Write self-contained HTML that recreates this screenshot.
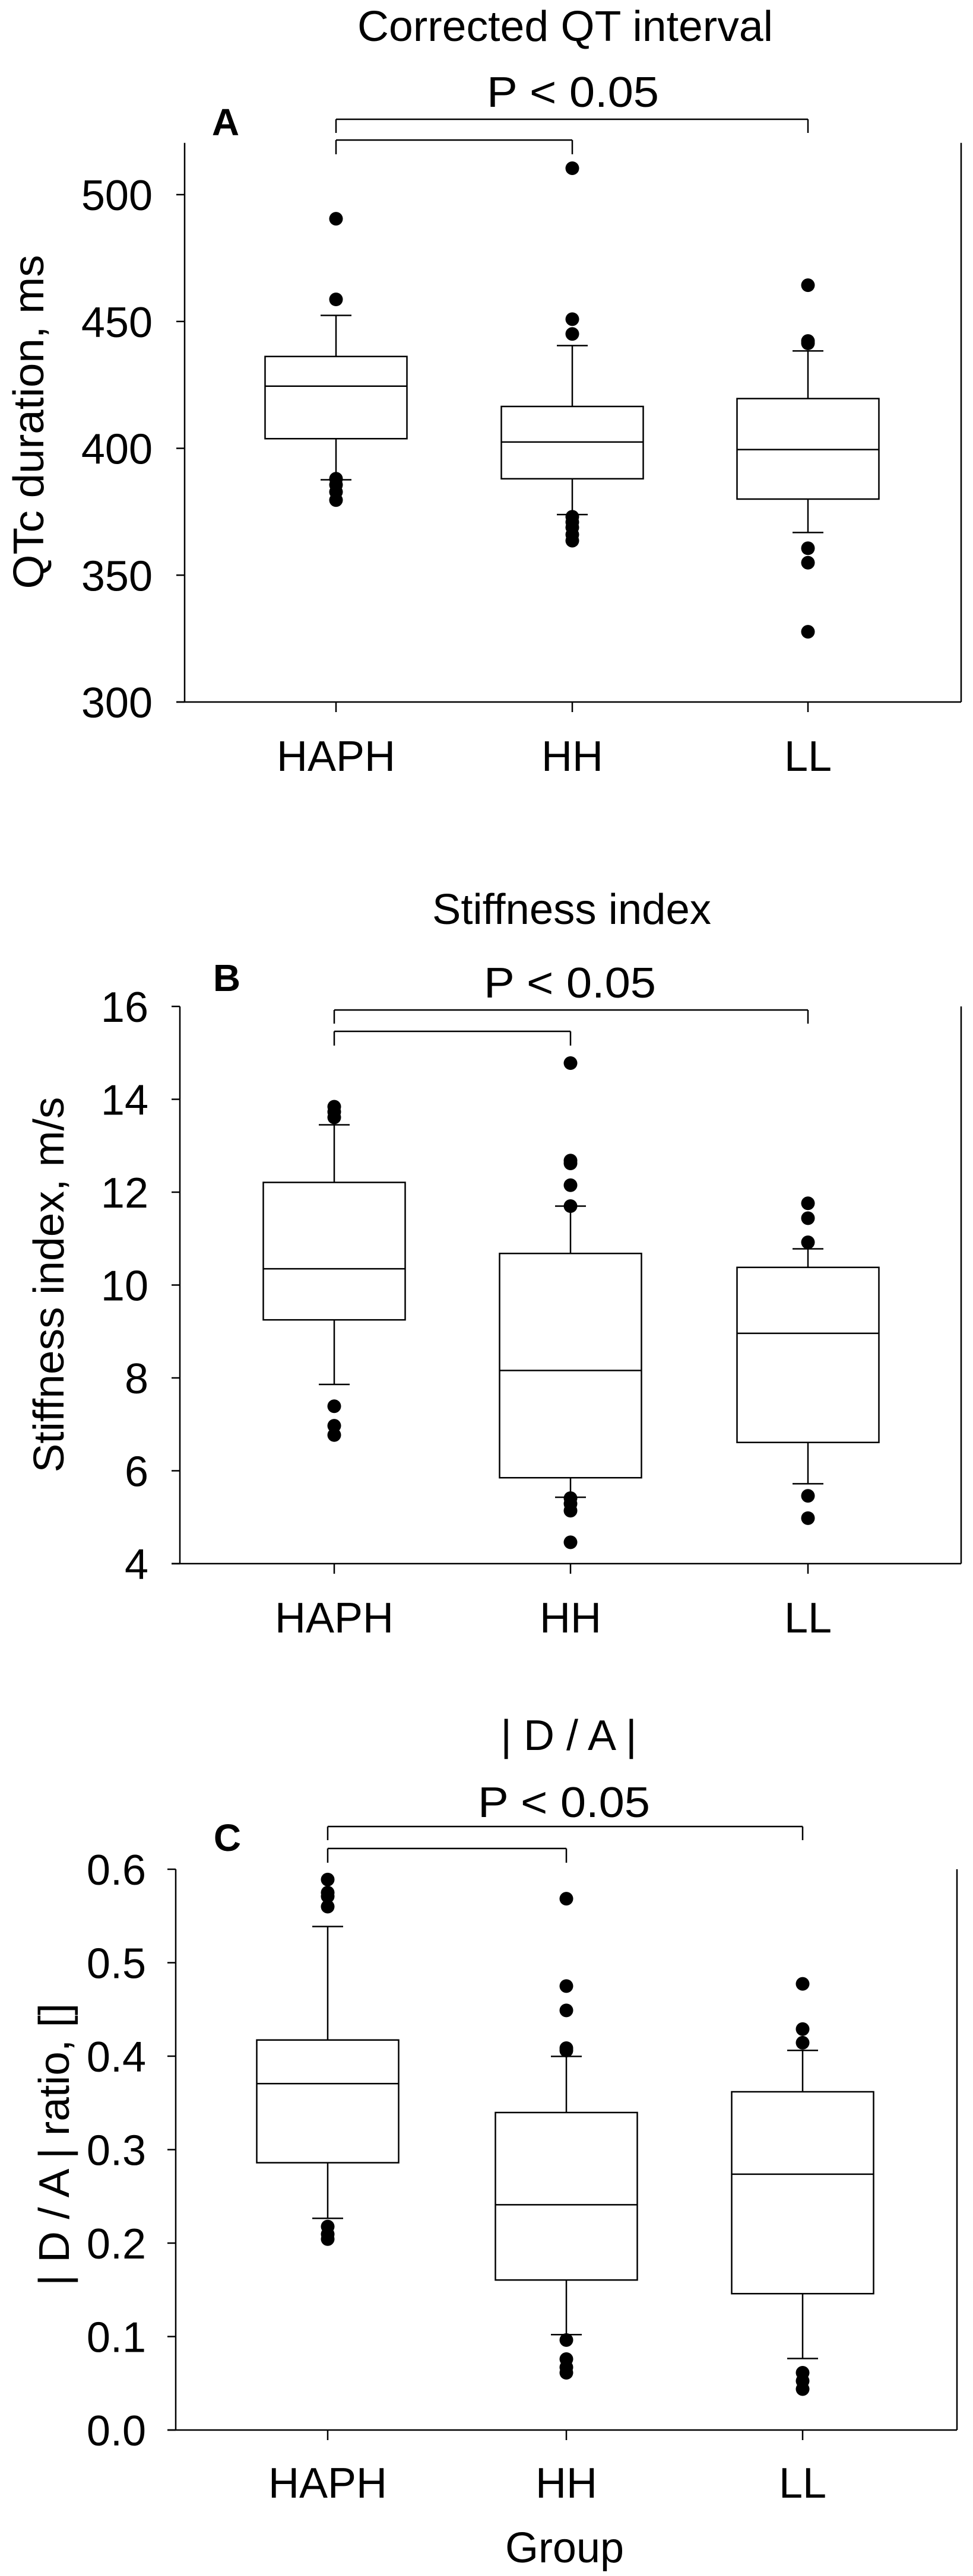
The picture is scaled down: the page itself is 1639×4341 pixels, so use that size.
<!DOCTYPE html>
<html><head><meta charset="utf-8">
<style>
html,body{margin:0;padding:0;background:#fff;}
svg{display:block;font-family:"Liberation Sans",Arial,sans-serif;}
</style></head>
<body>
<svg id="fig" width="1639" height="4341" viewBox="0 0 1639 4341"></svg>
<script>
// ---------- DATA ----------
const groups = ["HAPH","HH","LL"];

// Panel A: Corrected QT interval (ms)
const qtcTicks = [300,350,400,450,500];
const qtcQ1 = [403.8, 388.0, 380.0];
const qtcMedian = [424.5, 402.5, 399.5];
const qtcQ3 = [436.2, 416.5, 419.6];
const qtcWhiskerLow = [387.6, 373.9, 366.8];
const qtcWhiskerHigh = [452.4, 440.5, 438.4];
const qtcOutliers = [
  [490.5, 458.7, 388.0, 385.6, 382.8, 379.6],
  [510.4, 450.9, 445.1, 373.0, 370.9, 368.8, 366.0, 363.6],
  [464.3, 442.3, 441.4, 360.6, 354.9, 327.7]
];

// Panel B: Stiffness index (m/s)
const siTicks = [4,6,8,10,12,14,16];
const siQ1 = [9.25, 5.85, 6.61];
const siMedian = [10.35, 8.16, 8.96];
const siQ3 = [12.21, 10.68, 10.38];
const siWhiskerLow = [7.86, 5.43, 5.72];
const siWhiskerHigh = [13.45, 11.70, 10.78];
const siOutliers = [
  [13.84, 13.73, 13.61, 7.39, 6.97, 6.77],
  [14.78, 12.68, 12.62, 12.15, 11.70, 5.41, 5.29, 5.14, 4.46],
  [11.76, 11.44, 10.92, 5.46, 4.98]
];

// Panel C: |D/A| ratio
const daTicks = [0.0,0.1,0.2,0.3,0.4,0.5,0.6];
const daTickLabels = ["0.0","0.1","0.2","0.3","0.4","0.5","0.6"];
const daQ1 = [0.286, 0.1605, 0.1459];
const daMedian = [0.3706, 0.241, 0.2737];
const daQ3 = [0.4173, 0.3397, 0.3619];
const daWhiskerLow = [0.2265, 0.1021, 0.0765];
const daWhiskerHigh = [0.5387, 0.3998, 0.4062];
const daOutliers = [
  [0.589, 0.575, 0.571, 0.560, 0.2177, 0.2095, 0.2043],
  [0.5685, 0.475, 0.449, 0.4086, 0.406, 0.0963, 0.0759, 0.0671, 0.0613],
  [0.4774, 0.429, 0.4144, 0.0613, 0.0525, 0.0438]
];

// ---------- DRAWING ----------
const NS = "http://www.w3.org/2000/svg";
const svg = document.getElementById("fig");
function mk(tag, attrs, parent){
  const e = document.createElementNS(NS, tag);
  for (const k in attrs) e.setAttribute(k, attrs[k]);
  (parent||svg).appendChild(e);
  return e;
}
function line(p, x1,y1,x2,y2,w){ return mk("line",{x1:x1,y1:y1,x2:x2,y2:y2,stroke:"#000","stroke-width":w||2.5},p); }
function text(p, x,y,str,size,anchor,weight){
  const t = mk("text",{x:x,y:y,"font-size":size,"text-anchor":anchor||"middle","font-weight":weight||"normal",fill:"#000"},p);
  t.textContent = str;
  return t;
}

function drawPanel(cfg){
  const g = mk("g",{});
  
  
  const yScale = v => cfg.yZero - (v - cfg.vMin) * cfg.pxPerUnit;
  const xScale = i => cfg.groupX[i];

  // titles
  const t1 = text(g, cfg.titleX, cfg.titleY, cfg.title, 72);
  
  
  if (cfg.titleLen) { t1.setAttribute("textLength", cfg.titleLen); t1.setAttribute("lengthAdjust","spacingAndGlyphs"); }
  const pt = text(g, cfg.pX, cfg.pY, "P < 0.05", 72);
  
  
  pt.setAttribute("textLength", 290); pt.setAttribute("lengthAdjust","spacingAndGlyphs");
  const lab = text(g, cfg.labX, cfg.labY, cfg.letter, 64, "middle", "bold");
  
  

  // brackets
  const br = mk("g",{},g);
  
  
  line(br, xScale(0), cfg.brUpper, xScale(2), cfg.brUpper, 2.5);
  line(br, xScale(0), cfg.brUpper, xScale(0), cfg.brUpper+23, 2.5);
  line(br, xScale(2), cfg.brUpper, xScale(2), cfg.brUpper+23, 2.5);
  line(br, xScale(0), cfg.brLower, xScale(1), cfg.brLower, 2.5);
  line(br, xScale(0), cfg.brLower, xScale(0), cfg.brLower+24, 2.5);
  line(br, xScale(1), cfg.brLower, xScale(1), cfg.brLower+24, 2.5);

  // axes
  const ax = mk("g",{},g);
  
  
  const yTopPx = yScale(cfg.vMax);
  line(ax, cfg.x0, yTopPx, cfg.x0, cfg.yZero, 2.5);
  line(ax, cfg.x1, yTopPx, cfg.x1, cfg.yZero, 2.5);
  line(ax, cfg.x0 - 14, cfg.yZero, cfg.x1, cfg.yZero, 2.5);
  cfg.ticks.forEach((v,i)=>{
    const y = yScale(v);
    line(ax, cfg.x0 - 14, y, cfg.x0, y, 2.5);
    const tl = text(ax, cfg.tickRight, y + 26, cfg.tickLabels ? cfg.tickLabels[i] : String(v), 72, "end");
    
    
  });
  groups.forEach((gname,i)=>{
    line(ax, xScale(i), cfg.yZero, xScale(i), cfg.yZero + 17, 2.5);
    const xl = text(ax, xScale(i), cfg.xLabY, gname, 72);
    
    
  });
  const yt = text(ax, 0, 0, cfg.yTitle, 72);
  yt.setAttribute("transform", "translate("+cfg.yTitleX+","+cfg.yTitleY+") rotate(-90)");
  yt.setAttribute("textLength", cfg.yTitleLen); yt.setAttribute("lengthAdjust","spacingAndGlyphs");
  
  

  // boxes
  groups.forEach((gname,i)=>{
    const bg = mk("g",{},g);
    
    
    const x = xScale(i), hw = 119.5, cap = 26;
    const yq1 = yScale(cfg.q1[i]), yq3 = yScale(cfg.q3[i]);
    const r = mk("rect",{x:x-hw, y:yq3, width:2*hw, height:yq1-yq3, fill:"none", stroke:"#000","stroke-width":2.5},bg);
    
    
    const md = line(bg, x-hw, yScale(cfg.med[i]), x+hw, yScale(cfg.med[i]), 2.5);
    
    
    line(bg, x, yq3, x, yScale(cfg.wHi[i]), 2.5);
    line(bg, x-cap, yScale(cfg.wHi[i]), x+cap, yScale(cfg.wHi[i]), 2.5);
    line(bg, x, yq1, x, yScale(cfg.wLo[i]), 2.5);
    line(bg, x-cap, yScale(cfg.wLo[i]), x+cap, yScale(cfg.wLo[i]), 2.5);
    cfg.out[i].forEach(v=>{
      const c = mk("circle",{cx:x, cy:yScale(v), r:11.5, fill:"#000"},bg);
      
      
    });
  });
}

drawPanel({
  name:"panel-a-qtc", letter:"A", title:"Corrected QT interval", titleX:952, titleY:69, titleLen:700,
  pX:965, pY:180, labX:380, labY:228,
  brUpper:201, brLower:236,
  x0:311, x1:1619, yZero:1183, vMin:300, vMax:520.4, pxPerUnit:4.275,
  groupX:[566,964,1361], ticks:qtcTicks, tickRight:257, xLabY:1299,
  yTitle:"QTc duration, ms", yTitleX:73, yTitleY:711, yTitleLen:563,
  q1:qtcQ1, med:qtcMedian, q3:qtcQ3, wLo:qtcWhiskerLow, wHi:qtcWhiskerHigh, out:qtcOutliers
});
drawPanel({
  name:"panel-b-stiffness", letter:"B", title:"Stiffness index", titleX:963, titleY:1557, titleLen:470,
  pX:960, pY:1681, labX:382, labY:1670,
  brUpper:1702, brLower:1738,
  x0:303, x1:1619, yZero:2635, vMin:4, vMax:16, pxPerUnit:78.25,
  groupX:[563,961,1361], ticks:siTicks, tickRight:250, xLabY:2751,
  yTitle:"Stiffness index, m/s", yTitleX:107, yTitleY:2165, yTitleLen:633,
  q1:siQ1, med:siMedian, q3:siQ3, wLo:siWhiskerLow, wHi:siWhiskerHigh, out:siOutliers
});
drawPanel({
  name:"panel-c-da-ratio", letter:"C", title:"| D / A |", titleX:958, titleY:2949, titleLen:0,
  pX:950, pY:3062, labX:383, labY:3119,
  brUpper:3078, brLower:3115,
  x0:296, x1:1612, yZero:4095, vMin:0, vMax:0.6, pxPerUnit:1575,
  groupX:[552,954,1352], ticks:daTicks, tickLabels:daTickLabels, tickRight:246, xLabY:4209,
  yTitle:"| D / A | ratio, []", yTitleX:116, yTitleY:3614, yTitleLen:476,
  q1:daQ1, med:daMedian, q3:daQ3, wLo:daWhiskerLow, wHi:daWhiskerHigh, out:daOutliers
});

const gl = text(svg, 951, 4318, "Group", 72);


</script>
</body></html>
